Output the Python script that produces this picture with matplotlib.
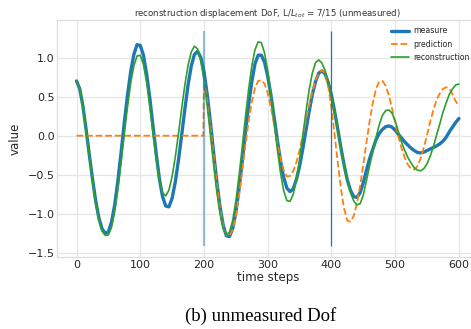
import numpy as np
import matplotlib
matplotlib.use("Agg")
import matplotlib.pyplot as plt

# time grid (every 5 steps)
steps = list(range(0, 601, 5))

measure = [
    0.70, 0.60, 0.38, 0.08, -0.24, -0.55, -0.83, -1.05, -1.19, -1.25,
    -1.23, -1.10, -0.88, -0.57, -0.21, 0.17, 0.52, 0.82, 1.04, 1.165,
    1.155, 1.03, 0.79, 0.48, 0.12, -0.23, -0.55, -0.78, -0.90, -0.91,
    -0.80, -0.59, -0.31, 0.01, 0.34, 0.65, 0.89, 1.04, 1.08, 1.00,
    0.82, 0.53, 0.18, -0.21, -0.58, -0.90, -1.14, -1.28, -1.29, -1.19,
    -0.98, -0.68, -0.33, 0.04, 0.39, 0.69, 0.92, 1.03, 1.03, 0.94,
    0.76, 0.52, 0.24, -0.05, -0.32, -0.53, -0.67, -0.715, -0.68, -0.56,
    -0.39, -0.17, 0.07, 0.31, 0.53, 0.69, 0.80, 0.83, 0.79, 0.68,
    0.52, 0.31, 0.08, -0.16, -0.38, -0.57, -0.70, -0.78, -0.79, -0.73,
    -0.60, -0.44, -0.29, -0.17, -0.05, 0.03, 0.08, 0.115, 0.125, 0.11,
    0.07, 0.02, -0.03, -0.08, -0.12, -0.16, -0.19, -0.215, -0.22, -0.21,
    -0.19, -0.17, -0.15, -0.13, -0.105, -0.07, -0.02, 0.05, 0.11, 0.17,
    0.22,
]

reconstruction = [
    0.70, 0.60, 0.37, 0.06, -0.26, -0.58, -0.86, -1.08, -1.22, -1.275,
    -1.27, -1.17, -0.965, -0.68, -0.34, 0.025, 0.37, 0.675, 0.895, 1.02,
    1.03, 0.91, 0.68, 0.375, 0.03, -0.30, -0.565, -0.73, -0.77, -0.695,
    -0.52, -0.27, 0.03, 0.35, 0.65, 0.90, 1.07, 1.145, 1.11, 0.96,
    0.71, 0.385, 0.015, -0.36, -0.71, -0.99, -1.185, -1.265, -1.235, -1.085,
    -0.835, -0.515, -0.145, 0.235, 0.59, 0.89, 1.10, 1.20, 1.19, 1.06,
    0.83, 0.525, 0.18, -0.165, -0.47, -0.70, -0.83, -0.84, -0.75, -0.56,
    -0.30, 0.00, 0.305, 0.585, 0.80, 0.935, 0.97, 0.93, 0.835, 0.69,
    0.50, 0.29, 0.065, -0.165, -0.385, -0.575, -0.73, -0.835, -0.885, -0.87,
    -0.76, -0.57, -0.38, -0.20, -0.02, 0.14, 0.26, 0.32, 0.33, 0.29,
    0.19, 0.05, -0.08, -0.19, -0.28, -0.35, -0.41, -0.44, -0.45, -0.42,
    -0.36, -0.26, -0.14, 0.01, 0.15, 0.30, 0.42, 0.53, 0.60, 0.65,
    0.66,
]

# prediction: zero until step 199, then starts at 200
pred_steps = [0, 199] + steps[40:]
prediction = [0.0, 0.0] + [
    0.72, 0.45, 0.12, -0.25, -0.60, -0.92, -1.15, -1.27, -1.28, -1.20,
    -1.02, -0.76, -0.45, -0.12, 0.18, 0.43, 0.61, 0.70, 0.71, 0.665,
    0.545, 0.36, 0.14, -0.09, -0.29, -0.44, -0.52, -0.515, -0.455, -0.34,
    -0.185, 0.00, 0.195, 0.39, 0.565, 0.705, 0.80, 0.84, 0.80, 0.63,
    0.355, 0.01, -0.35, -0.685, -0.94, -1.085, -1.10, -1.025, -0.865, -0.64,
    -0.37, -0.085, 0.19, 0.425, 0.60, 0.695, 0.70, 0.64, 0.52, 0.35,
    0.17, -0.01, -0.16, -0.28, -0.37, -0.42, -0.435, -0.39, -0.29, -0.15,
    0.01, 0.18, 0.33, 0.46, 0.54, 0.60, 0.62, 0.60, 0.53, 0.44,
    0.38,
]

window_marks = [200, 400]

plt.style.use("seaborn-v0_8-whitegrid")
plt.rcParams["font.family"] = ["DejaVu Sans"]
plt.rcParams["mathtext.fontset"] = "dejavusans"
fig = plt.figure(figsize=(4.71, 3.29), dpi=100)
ax = fig.add_axes([0.1219, 0.218, 0.893, 0.72])

ax.plot(steps, measure, color="#1f77b4", lw=2.4, label="measure")
ax.plot(pred_steps, prediction, color="#ff7f0e", lw=1.3, ls="--", label="prediction")
ax.plot(steps, reconstruction, color="#2ca02c", lw=1.2, label="reconstruction")
ax.vlines(window_marks[0], -1.41, 1.34, color="#1f77b4", lw=1.6, alpha=0.45)
ax.vlines(window_marks[1], -1.41, 1.34, color="#1f77b4", lw=0.9)

ax.set_xlim(-30, 630)
ax.set_ylim(-1.555, 1.475)
ax.set_xticks([0, 100, 200, 300, 400, 500, 600])
ax.set_yticks([-1.5, -1.0, -0.5, 0.0, 0.5, 1.0])
ax.tick_params(labelsize=8, colors=".15", pad=2)
ax.grid(True, color="#e6e6e6", lw=0.9)
for s in ax.spines.values():
    s.set_color("#dddddd")
    s.set_linewidth(0.9)

ax.set_xlabel("time steps", fontsize=8.5, color=".15", labelpad=1)
ax.set_ylabel("value", fontsize=8.5, color=".15", labelpad=4)
ax.set_title(r"reconstruction displacement DoF, L/$L_{tot}$ = 7/15 (unmeasured)",
             fontsize=6.2, color=".2", pad=3)
ax.legend(loc="upper right", fontsize=5.6, frameon=False, handlelength=2.3,
          handletextpad=0.5, borderaxespad=0, borderpad=0.2, labelspacing=0.55,
          bbox_to_anchor=(1.0, 0.925), bbox_transform=fig.transFigure)

fig.text(0.553, 0.04, "(b) unmeasured Dof", family="Liberation Serif", fontsize=13.5,
         ha="center", va="center", color="black")

fig.savefig("out.png", dpi=100)
